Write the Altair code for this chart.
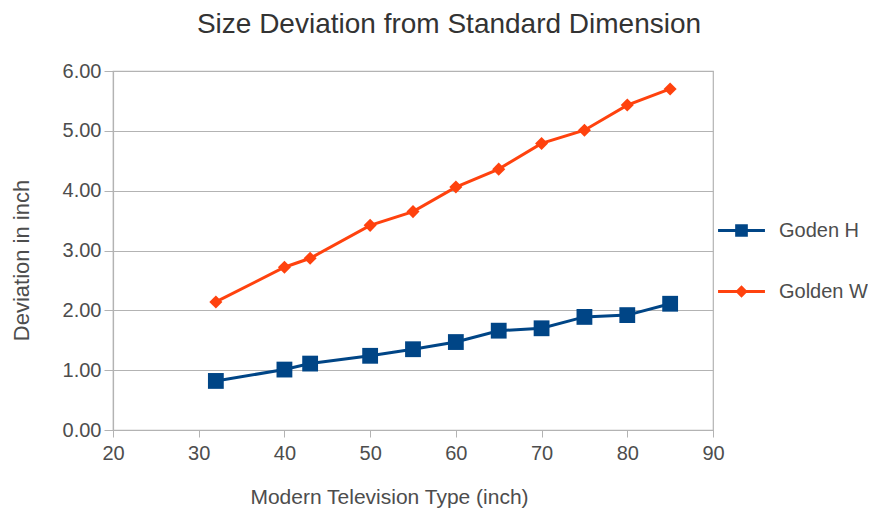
import altair as alt
import pandas as pd

sizes = [32, 40, 43, 50, 55, 60, 65, 70, 75, 80, 85]
golden_h = [0.82, 1.01, 1.11, 1.24, 1.35, 1.47, 1.66, 1.70, 1.89, 1.92, 2.11]
golden_w = [2.14, 2.72, 2.87, 3.42, 3.65, 4.06, 4.36, 4.79, 5.01, 5.43, 5.70]
series_names = ["Goden H", "Golden W"]
series_colors = ["#004586", "#ff420e"]

rows = []
for s, h, w in zip(sizes, golden_h, golden_w):
    rows.append({"size": s, "value": h, "series": series_names[0]})
    rows.append({"size": s, "value": w, "series": series_names[1]})
df = pd.DataFrame(rows)

# legend symbol paths: line with square / line with diamond
leg_square = ("M-1,-0.065L-0.27,-0.065L-0.27,-0.27L0.27,-0.27L0.27,-0.065L1,-0.065"
              "L1,0.065L0.27,0.065L0.27,0.27L-0.27,0.27L-0.27,0.065L-1,0.065Z")
leg_diamond = ("M-1,-0.065L-0.2,-0.065L0,-0.27L0.2,-0.065L1,-0.065"
               "L1,0.065L0.2,0.065L0,0.27L-0.2,0.065L-1,0.065Z")

color_scale = alt.Scale(domain=series_names, range=series_colors)
FONT = "Liberation Sans"
TXT = "#4d4d4d"

x_enc = alt.X("size:Q", scale=alt.Scale(domain=[20, 90], nice=False),
              axis=alt.Axis(title="Modern Television Type (inch)", values=list(range(20, 91, 10)),
                            grid=False, labelFlush=False, tickSize=7, labelPadding=6,
                            titleFontSize=21, titleX=276, titleY=56))
y_enc = alt.Y("value:Q", scale=alt.Scale(domain=[0, 6], nice=False),
              axis=alt.Axis(title="Deviation in inch", format=".2f", values=[0, 1, 2, 3, 4, 5, 6],
                            tickSize=9, labelPadding=3, titleFontSize=22, titleX=-80, titleY=189))

leg = alt.Legend(title=None, orient="none", legendX=605, legendY=136,
                 symbolSize=2200, symbolOpacity=1, symbolStrokeWidth=0,
                 labelFontSize=20, labelColor=TXT, labelFont=FONT,
                 rowPadding=27, labelOffset=14)

base = alt.Chart(df)

lines = base.mark_line(strokeWidth=3).encode(
    x=x_enc, y=y_enc,
    color=alt.Color("series:N", scale=color_scale),
    detail="series:N",
)

pts_h = base.transform_filter(alt.datum.series == series_names[0]).mark_point(
    shape="square", filled=True, size=250, opacity=1, color=series_colors[0]
).encode(x="size:Q", y="value:Q")

pts_w = base.transform_filter(alt.datum.series == series_names[1]).mark_point(
    shape="diamond", filled=True, size=170, opacity=1, color=series_colors[1]
).encode(x="size:Q", y="value:Q")

legend_layer = base.mark_point(filled=True, opacity=0).encode(
    x="size:Q", y="value:Q",
    color=alt.Color("series:N", scale=color_scale, legend=leg),
    shape=alt.Shape("series:N", scale=alt.Scale(domain=series_names, range=[leg_square, leg_diamond]),
                    legend=leg),
)

chart = alt.layer(lines, pts_h, pts_w, legend_layer).properties(
    width=600, height=359,
    autosize=alt.AutoSizeParams(type="none"),
    padding={"left": 105, "top": 63, "right": 155, "bottom": 82},
    title=alt.TitleParams("Size Deviation from Standard Dimension", fontSize=28,
                          font=FONT, fontWeight="normal", color="#333333",
                          anchor="middle", dx=36, offset=22),
).configure_axis(
    labelFont=FONT, labelFontSize=20, labelColor=TXT,
    titleFont=FONT, titleFontWeight="normal", titleColor=TXT,
    gridColor="#b3b3b3", domainColor="#b3b3b3", tickColor="#b3b3b3",
    gridWidth=1.2, domainWidth=1.2,
).configure_view(stroke="#b3b3b3", strokeWidth=1.2)

chart.save("out.html", embed_options={"renderer": "svg", "actions": False})
